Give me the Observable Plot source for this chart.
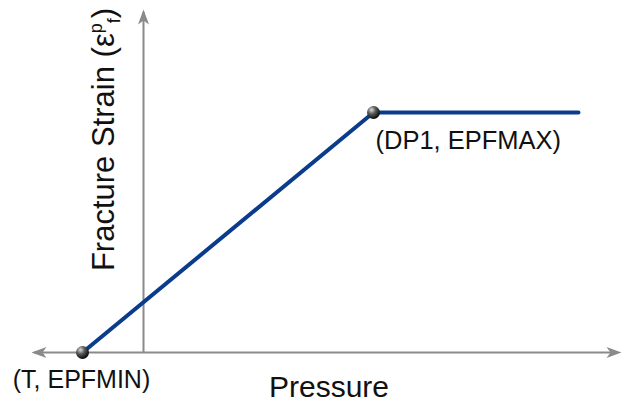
<!DOCTYPE html>
<html><head><meta charset="utf-8">
<script src="https://cdn.jsdelivr.net/npm/d3@7"></script>
<script src="https://cdn.jsdelivr.net/npm/@observablehq/plot@0.6"></script>
<style>html,body{margin:0;padding:0;background:#fff;overflow:hidden}</style>
</head><body><div id="chart"></div>
<script>
// ---- data ----
const pointNames = ["T", "DP1", "end"];
const pressure = [-0.61, 2.30, 4.35];
const strain = [0, 2.40, 2.40];
const pointLabels = ["(T, EPFMIN)", "(DP1, EPFMAX)"];
const xAxisExtent = [-1.09, 4.75];
const yAxisExtent = [0, 3.40];
const xTitle = "Pressure";
const yTitle = "Fracture Strain (ε";
const ySup = "p", ySub = "f", yClose = ")";

const pts = pointNames.map((name, i) => ({name, p: pressure[i], s: strain[i]}));
const arrows = [
  {x: xAxisExtent[0], y: 0, rot: 180},
  {x: xAxisExtent[1], y: 0, rot: 0},
  {x: 0, y: yAxisExtent[1], rot: -90}
];
const arrowHead = {draw(ctx) {
  ctx.moveTo(3, 0); ctx.lineTo(-12, -5.5); ctx.lineTo(-8, 0); ctx.lineTo(-12, 5.5); ctx.closePath();
}};
const axisColor = "#8a8a8a";
const font = "'Liberation Sans', Arial, Helvetica, sans-serif";

const chart = Plot.plot({
  width: 623, height: 402,
  marginTop: 0, marginRight: 0, marginBottom: 0, marginLeft: 0,
  x: {domain: [-1.43, 4.80], axis: null},
  y: {domain: [-0.50, 3.52], axis: null},
  style: {background: "#fff", fontFamily: font, color: "#111"},
  marks: [
    Plot.ruleY([0], {x1: xAxisExtent[0], x2: xAxisExtent[1], stroke: axisColor, strokeWidth: 2}),
    Plot.ruleX([0], {y1: yAxisExtent[0], y2: yAxisExtent[1], stroke: axisColor, strokeWidth: 2}),
    Plot.dot(arrows, {x: "x", y: "y", rotate: "rot", symbol: arrowHead, r: 5, fill: axisColor, stroke: "none"}),
    Plot.line(pts, {x: "p", y: "s", stroke: "#0b3c8c", strokeWidth: 4, strokeLinecap: "round", strokeLinejoin: "round"}),
    Plot.dot(pts.slice(0, 2), {x: "p", y: "s", r: 6.5, fill: "url(#sphere)", stroke: "none"}),
    Plot.text([pts[0]], {x: "p", y: "s", text: () => pointLabels[0], textAnchor: "middle", lineAnchor: "bottom", dx: -1, dy: 35, fontSize: 25, fill: "#111"}),
    Plot.text([pts[1]], {x: "p", y: "s", text: () => pointLabels[1], textAnchor: "start", lineAnchor: "bottom", dx: 2, dy: 36, fontSize: 25.5, fill: "#111"}),
    Plot.text([xTitle], {frameAnchor: "bottom", text: d => d, textAnchor: "middle", lineAnchor: "bottom", dx: 17, dy: -6, fontSize: 30, fill: "#111"}),
    Plot.text([yTitle], {frameAnchor: "left", text: d => d, rotate: -90, textAnchor: "middle", lineAnchor: "bottom", dx: 113, dy: -62, fontSize: 31, fill: "#111"})
  ]
});

// gradient for the spherical points
const defs = d3.select(chart).insert("defs", ":first-child");
const g = defs.append("radialGradient").attr("id", "sphere").attr("cx", "35%").attr("cy", "30%").attr("r", "70%");
g.append("stop").attr("offset", "0%").attr("stop-color", "#dcdcdc");
g.append("stop").attr("offset", "45%").attr("stop-color", "#5a5a5a");
g.append("stop").attr("offset", "100%").attr("stop-color", "#0a0a0a");

// superscript / subscript on the y title
for (const t of chart.querySelectorAll("text")) {
  if (t.textContent === yTitle) {
    const sup = d3.select(t).append("tspan").attr("font-size", 18).attr("dy", -12).text(ySup);
    const w = sup.node().getComputedTextLength();
    d3.select(t).append("tspan").attr("font-size", 18).attr("dx", -w).attr("dy", 18).text(ySub);
    d3.select(t).append("tspan").attr("dy", -6).text(yClose);
  }
}

document.getElementById("chart").appendChild(chart);
</script>
</body></html>
